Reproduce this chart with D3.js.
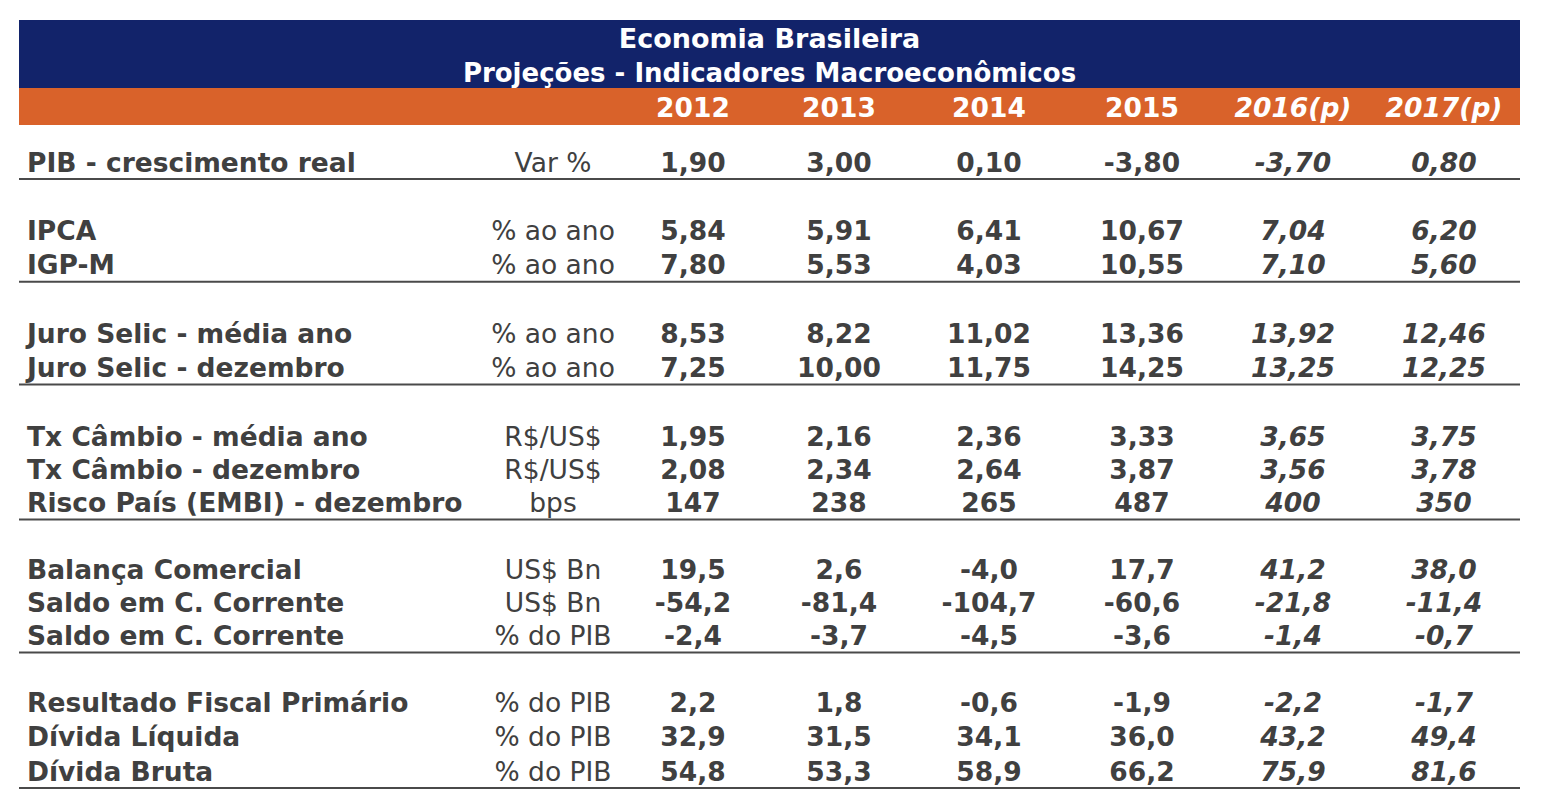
<!DOCTYPE html>
<html>
<head>
<meta charset="utf-8">
<script src="https://cdn.jsdelivr.net/npm/d3@7"></script>
<style>
  html, body { margin: 0; padding: 0; background: #ffffff; }
  svg { display: block; }
  text { font-family: "DejaVu Sans", Verdana, sans-serif; }
</style>
</head>
<body>
<svg id="chart" width="1563" height="804"></svg>
<script>
const title1 = "Economia Brasileira";
const title2 = "Projeções - Indicadores Macroeconômicos";
const years = ["2012", "2013", "2014", "2015", "2016(p)", "2017(p)"];
const projected = [false, false, false, false, true, true];

const indicators = [
  "PIB - crescimento real",
  "IPCA",
  "IGP-M",
  "Juro Selic - média ano",
  "Juro Selic - dezembro",
  "Tx Câmbio - média ano",
  "Tx Câmbio - dezembro",
  "Risco País (EMBI) - dezembro",
  "Balança Comercial",
  "Saldo em C. Corrente",
  "Saldo em C. Corrente",
  "Resultado Fiscal Primário",
  "Dívida Líquida",
  "Dívida Bruta"
];
const units = [
  "Var %", "% ao ano", "% ao ano", "% ao ano", "% ao ano",
  "R$/US$", "R$/US$", "bps", "US$ Bn", "US$ Bn", "% do PIB",
  "% do PIB", "% do PIB", "% do PIB"
];
const groupOf = [0, 1, 1, 2, 2, 3, 3, 3, 4, 4, 4, 5, 5, 5];
const decimals = [2, 2, 2, 2, 2, 2, 2, 0, 1, 1, 1, 1, 1, 1];

const v2012 = [1.90, 5.84, 7.80, 8.53, 7.25, 1.95, 2.08, 147, 19.5, -54.2, -2.4, 2.2, 32.9, 54.8];
const v2013 = [3.00, 5.91, 5.53, 8.22, 10.00, 2.16, 2.34, 238, 2.6, -81.4, -3.7, 1.8, 31.5, 53.3];
const v2014 = [0.10, 6.41, 4.03, 11.02, 11.75, 2.36, 2.64, 265, -4.0, -104.7, -4.5, -0.6, 34.1, 58.9];
const v2015 = [-3.80, 10.67, 10.55, 13.36, 14.25, 3.33, 3.87, 487, 17.7, -60.6, -3.6, -1.9, 36.0, 66.2];
const v2016 = [-3.70, 7.04, 7.10, 13.92, 13.25, 3.65, 3.56, 400, 41.2, -21.8, -1.4, -2.2, 43.2, 75.9];
const v2017 = [0.80, 6.20, 5.60, 12.46, 12.25, 3.75, 3.78, 350, 38.0, -11.4, -0.7, -1.7, 49.4, 81.6];
const series = [v2012, v2013, v2014, v2015, v2016, v2017];

const NAVY = "#12236a";
const ORANGE = "#d9622a";
const TEXT = "#404040";
const RULE = "#4a4a4a";
const FS = 26.5;

const svg = d3.select("#chart");
const left = 19, right = 1520;

// column scale (index -> center)
const colX = d3.scaleLinear().domain([0, 1, 2, 3, 4, 5]).range([693, 839, 989, 1142, 1293, 1444]);
const x = d => colX(years.indexOf(d));
const unitX = 553;
const labelX = 27;

// row scale: position = row index + group index (one empty slot per group gap)
const rowPos = indicators.map((d, i) => i + groupOf[i]);
const y = d3.scaleLinear().domain([0, 8, 16, 18]).range([162, 436, 702, 771]);

const fmt = (v, dec) => {
  const s = d3.format("." + dec + "f")(Math.abs(v)).replace(".", ",");
  return (v < 0 ? "-" : "") + s;
};

// header bands
svg.append("rect").attr("x", left).attr("y", 20).attr("width", right - left).attr("height", 68).attr("fill", NAVY);
svg.append("rect").attr("x", left).attr("y", 88).attr("width", right - left).attr("height", 37).attr("fill", ORANGE);

const cx = (left + right) / 2;
svg.append("text").attr("x", cx).attr("y", 48).attr("text-anchor", "middle")
  .attr("fill", "#fff").attr("font-weight", "bold").attr("font-size", 27).text(title1);
svg.append("text").attr("x", cx).attr("y", 82).attr("text-anchor", "middle")
  .attr("fill", "#fff").attr("font-weight", "bold").attr("font-size", 26).text(title2);

svg.append("g").selectAll("text").data(years).join("text")
  .attr("x", d => x(d)).attr("y", 117).attr("text-anchor", "middle")
  .attr("fill", "#fff").attr("font-weight", "bold").attr("font-size", FS)
  .attr("font-style", (d, i) => projected[i] ? "italic" : "normal")
  .text(d => d);

// rows
const rows = svg.append("g");
indicators.forEach((lab, i) => {
  const yy = y(rowPos[i]);
  rows.append("text").attr("x", labelX).attr("y", yy).attr("dy", "0.365em")
    .attr("fill", TEXT).attr("font-weight", "bold").attr("font-size", FS).text(lab);
  rows.append("text").attr("x", unitX).attr("y", yy).attr("dy", "0.365em")
    .attr("text-anchor", "middle").attr("fill", TEXT).attr("font-size", FS).text(units[i]);
  years.forEach((yr, j) => {
    rows.append("text").attr("x", x(yr)).attr("y", yy).attr("dy", "0.365em")
      .attr("text-anchor", "middle").attr("fill", TEXT).attr("font-weight", "bold")
      .attr("font-style", projected[j] ? "italic" : "normal")
      .attr("font-size", FS).text(fmt(series[j][i], decimals[i]));
  });
});

// group rules: after the last row of each group
const lastRows = indicators.map((d, i) => i).filter(i => i === indicators.length - 1 || groupOf[i + 1] !== groupOf[i]);
svg.append("g").selectAll("line").data(lastRows).join("line")
  .attr("x1", left).attr("x2", right)
  .attr("y1", i => y(rowPos[i]) + 17).attr("y2", i => y(rowPos[i]) + 17)
  .attr("stroke", RULE).attr("stroke-width", 2);
</script>
</body>
</html>
